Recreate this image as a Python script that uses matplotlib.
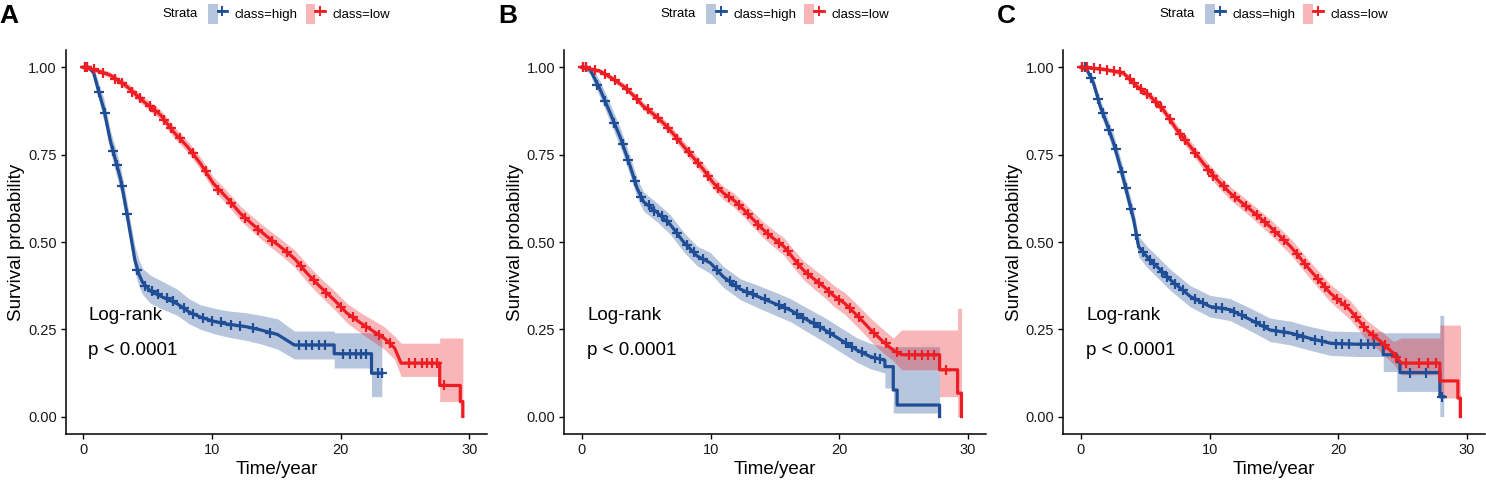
import numpy as np
import matplotlib
matplotlib.use("Agg")
import matplotlib.pyplot as plt
from matplotlib.patches import Patch
from matplotlib.lines import Line2D
from matplotlib.legend_handler import HandlerTuple

plt.rcParams["font.family"] = ["Liberation Sans", "DejaVu Sans"]

BLUE = "#1F4E96"
RED = "#EE1D23"

# ---------------- panel A ----------------
A_HIGH_T = [0, 0.4, 0.8, 1.2, 1.6, 2.1, 2.5, 2.9, 3.3, 3.7, 4.0, 4.3, 4.6, 5.2, 6.0, 7.3, 8.2, 9.1, 10.2,
            11.2, 12.7, 13.8, 15.1, 16.4, 19.5, 19.5, 22.4, 22.4, 23.2]
A_HIGH_S = [1.0, 1.0, 0.985, 0.93, 0.88, 0.79, 0.735, 0.68, 0.60, 0.515, 0.45, 0.41, 0.385, 0.36, 0.345,
            0.323, 0.30, 0.285, 0.272, 0.265, 0.257, 0.248, 0.235, 0.205, 0.205, 0.18, 0.18, 0.124, 0.124]
A_HIGH_LO = [1.0, 1.0, 0.97, 0.905, 0.85, 0.76, 0.70, 0.645, 0.565, 0.48, 0.415, 0.375, 0.35, 0.325, 0.31,
             0.29, 0.266, 0.25, 0.237, 0.228, 0.218, 0.208, 0.193, 0.165, 0.165, 0.139, 0.139, 0.057, 0.057]
A_HIGH_UP = [1.0, 1.0, 1.0, 0.955, 0.91, 0.82, 0.77, 0.715, 0.635, 0.55, 0.49, 0.45, 0.425, 0.405, 0.39,
             0.365, 0.338, 0.32, 0.31, 0.303, 0.297, 0.29, 0.28, 0.245, 0.245, 0.24, 0.24, 0.24, 0.24]
A_HIGH_CT = [0.1, 0.25, 1.2, 1.7, 2.3, 2.6, 3.0, 3.4, 4.2, 4.8, 5.3, 5.8, 6.5, 7.0, 7.8, 8.5, 9.3, 10.0,
             10.7, 11.5, 12.2, 13.2, 14.5, 16.8, 17.3, 17.8, 18.3, 18.8, 20.2, 20.7, 21.2, 21.6, 22.0, 22.9,
             23.2]
A_HIGH_CS = [1.0, 1.0, 0.93, 0.87, 0.76, 0.72, 0.66, 0.58, 0.42, 0.375, 0.36, 0.35, 0.34, 0.33, 0.31, 0.295,
             0.283, 0.275, 0.27, 0.263, 0.26, 0.253, 0.24, 0.205, 0.205, 0.205, 0.205, 0.205, 0.18, 0.18,
             0.18, 0.18, 0.18, 0.124, 0.124]

A_LOW_T = [0, 1.0, 2.1, 3.4, 4.7, 6.0, 7.0, 8.1, 9.1, 10.1, 11.2, 12.2, 13.2, 14.3, 15.3, 16.4, 17.4, 18.4,
           19.5, 20.5, 21.6, 22.6, 23.4, 24.2, 24.7, 27.7, 27.7, 29.3, 29.3, 29.5, 29.5]
A_LOW_S = [1.0, 0.992, 0.978, 0.945, 0.902, 0.864, 0.816, 0.773, 0.725, 0.668, 0.625, 0.582, 0.549, 0.515,
           0.487, 0.453, 0.41, 0.372, 0.334, 0.296, 0.267, 0.243, 0.224, 0.196, 0.153, 0.153, 0.089, 0.089,
           0.043, 0.043, 0.0]
A_LOW_LO = [1.0, 0.985, 0.97, 0.935, 0.89, 0.85, 0.80, 0.757, 0.708, 0.65, 0.606, 0.562, 0.528, 0.493,
            0.464, 0.429, 0.385, 0.346, 0.307, 0.268, 0.238, 0.213, 0.193, 0.163, 0.115, 0.115, 0.043, 0.043,
            0.0, 0.0, 0.0]
A_LOW_UP = [1.0, 0.999, 0.987, 0.957, 0.915, 0.879, 0.832, 0.79, 0.743, 0.687, 0.645, 0.603, 0.571, 0.538,
            0.51, 0.478, 0.436, 0.398, 0.361, 0.324, 0.296, 0.275, 0.257, 0.23, 0.21, 0.21, 0.225, 0.225,
            0.225, 0.225, 0.225]
A_LOW_CT = [0.1, 0.3, 0.8, 1.5, 2.5, 3.0, 3.8, 4.4, 5.2, 5.6, 6.3, 6.8, 7.5, 8.5, 9.5, 10.5, 11.5, 12.6,
            13.6, 14.7, 15.8, 16.9, 17.9, 18.9, 20.0, 21.0, 22.0, 23.0, 23.8, 25.3, 25.8, 26.3, 26.7, 27.1,
            27.5, 28.0]
A_LOW_CS = [1.0, 1.0, 0.995, 0.985, 0.968, 0.955, 0.93, 0.912, 0.89, 0.875, 0.85, 0.826, 0.797, 0.754,
            0.702, 0.65, 0.612, 0.569, 0.535, 0.504, 0.47, 0.43, 0.39, 0.353, 0.315, 0.284, 0.257, 0.234,
            0.21, 0.153, 0.153, 0.153, 0.153, 0.153, 0.153, 0.089]

# ---------------- panel B ----------------
B_HIGH_T = [0, 0.65, 0.91, 1.43, 2.2, 2.98, 3.76, 4.28, 4.8, 5.83, 6.87, 7.9, 8.95, 9.98, 11.0, 12.3, 13.6,
            14.9, 16.2, 17.5, 18.8, 20.1, 21.4, 22.4, 23.55, 23.55, 24.2, 24.2, 24.5, 24.5, 27.8, 27.8]
B_HIGH_S = [1.0, 0.993, 0.974, 0.936, 0.869, 0.80, 0.716, 0.655, 0.615, 0.585, 0.55, 0.50, 0.46, 0.44, 0.40,
            0.365, 0.345, 0.325, 0.305, 0.277, 0.25, 0.22, 0.19, 0.172, 0.161, 0.143, 0.143, 0.076, 0.076,
            0.033, 0.033, 0.0]
B_HIGH_LO = [1.0, 0.98, 0.955, 0.913, 0.843, 0.773, 0.688, 0.627, 0.588, 0.558, 0.522, 0.472, 0.432, 0.41,
             0.37, 0.335, 0.313, 0.292, 0.272, 0.243, 0.215, 0.185, 0.155, 0.137, 0.125, 0.082, 0.082, 0.01,
             0.01, 0.01, 0.01, 0.01]
B_HIGH_UP = [1.0, 1.0, 0.993, 0.96, 0.895, 0.827, 0.744, 0.683, 0.643, 0.612, 0.578, 0.528, 0.488, 0.47,
             0.43, 0.395, 0.377, 0.358, 0.338, 0.311, 0.285, 0.255, 0.225, 0.21, 0.2, 0.2, 0.2, 0.2, 0.2, 0.2,
             0.2, 0.2]
B_HIGH_CT = [0.1, 0.3, 1.2, 1.8, 2.5, 3.2, 3.6, 4.1, 4.6, 5.2, 5.6, 6.2, 6.6, 7.4, 8.2, 8.7, 9.4, 10.5, 11.5,
             12.0, 12.8, 13.3, 14.2, 15.3, 15.8, 16.7, 17.2, 18.0, 18.5, 19.3, 20.5, 21.0, 21.8, 22.8, 23.2]
B_HIGH_CS = [1.0, 1.0, 0.95, 0.905, 0.84, 0.78, 0.735, 0.675, 0.63, 0.605, 0.59, 0.575, 0.56, 0.525, 0.49,
             0.47, 0.452, 0.42, 0.387, 0.373, 0.358, 0.35, 0.336, 0.319, 0.311, 0.294, 0.283, 0.267, 0.256,
             0.238, 0.211, 0.2, 0.184, 0.169, 0.165]

B_LOW_T = [0, 0.8, 1.43, 2.3, 3.24, 4.0, 4.8, 5.6, 6.35, 7.1, 7.9, 8.7, 9.46, 10.2, 11.0, 11.8, 12.6, 13.3,
           14.1, 14.9, 15.7, 16.4, 17.2, 18.0, 18.8, 19.6, 20.4, 21.1, 21.9, 22.4, 23.4, 24.2, 24.85, 27.8,
           27.8, 29.2, 29.2, 29.5, 29.5]
B_LOW_S = [1.0, 0.995, 0.989, 0.97, 0.946, 0.92, 0.888, 0.865, 0.84, 0.81, 0.774, 0.74, 0.707, 0.67, 0.64,
           0.62, 0.592, 0.565, 0.535, 0.51, 0.487, 0.455, 0.42, 0.395, 0.372, 0.345, 0.325, 0.30, 0.27, 0.25,
           0.215, 0.19, 0.177, 0.177, 0.134, 0.134, 0.067, 0.067, 0.0]
B_LOW_LO = [1.0, 0.99, 0.982, 0.962, 0.937, 0.91, 0.877, 0.853, 0.827, 0.796, 0.759, 0.724, 0.69, 0.652,
            0.621, 0.6, 0.571, 0.543, 0.512, 0.486, 0.462, 0.429, 0.393, 0.367, 0.343, 0.315, 0.294, 0.268,
            0.238, 0.218, 0.183, 0.16, 0.134, 0.134, 0.057, 0.057, 0.0, 0.0, 0.0]
B_LOW_UP = [1.0, 1.0, 0.996, 0.978, 0.955, 0.93, 0.899, 0.877, 0.853, 0.824, 0.789, 0.756, 0.724, 0.688,
            0.659, 0.64, 0.613, 0.587, 0.558, 0.534, 0.512, 0.481, 0.447, 0.423, 0.401, 0.375, 0.356, 0.332,
            0.302, 0.283, 0.25, 0.225, 0.248, 0.248, 0.248, 0.248, 0.31, 0.31, 0.31]
B_LOW_CT = [0.1, 0.3, 1.0, 1.8, 2.6, 3.5, 4.3, 5.1, 5.9, 6.7, 7.4, 8.3, 9.0, 9.8, 10.6, 11.4, 12.2, 12.9,
            13.7, 14.5, 15.3, 16.0, 16.8, 17.6, 18.4, 19.2, 20.0, 20.8, 21.5, 22.7, 23.6, 24.5, 25.4, 25.9,
            26.4, 26.9, 27.4, 28.3]
B_LOW_CS = [1.0, 1.0, 0.993, 0.982, 0.963, 0.938, 0.91, 0.88, 0.855, 0.826, 0.796, 0.757, 0.727, 0.69, 0.655,
            0.63, 0.606, 0.58, 0.55, 0.522, 0.498, 0.473, 0.437, 0.407, 0.383, 0.358, 0.335, 0.311, 0.286,
            0.24, 0.21, 0.185, 0.177, 0.177, 0.177, 0.177, 0.177, 0.134]

# ---------------- panel C ----------------
C_HIGH_T = [0, 0.47, 0.98, 1.5, 2.0, 2.54, 3.06, 3.58, 4.1, 4.48, 5.13, 5.9, 6.94, 8.5, 10.05, 11.6, 13.2,
            14.7, 16.3, 17.8, 19.4, 21.5, 23.5, 23.5, 24.55, 24.55, 24.8, 24.8, 27.9, 27.9, 28.2]
C_HIGH_S = [1.0, 0.993, 0.955, 0.888, 0.84, 0.783, 0.716, 0.64, 0.564, 0.487, 0.458, 0.43, 0.392, 0.344,
            0.315, 0.306, 0.277, 0.248, 0.239, 0.224, 0.21, 0.207, 0.207, 0.177, 0.177, 0.157, 0.157, 0.126,
            0.126, 0.057, 0.057]
C_HIGH_LO = [1.0, 0.985, 0.94, 0.868, 0.818, 0.758, 0.69, 0.612, 0.535, 0.458, 0.428, 0.4, 0.362, 0.314,
             0.285, 0.275, 0.245, 0.215, 0.205, 0.19, 0.175, 0.172, 0.172, 0.129, 0.129, 0.072, 0.072, 0.072,
             0.072, 0.0, 0.0]
C_HIGH_UP = [1.0, 1.0, 0.97, 0.908, 0.862, 0.808, 0.742, 0.668, 0.593, 0.517, 0.488, 0.46, 0.422, 0.375,
             0.347, 0.338, 0.31, 0.282, 0.273, 0.258, 0.245, 0.243, 0.243, 0.24, 0.24, 0.24, 0.24, 0.24, 0.24,
             0.29, 0.29]
C_HIGH_CT = [0.1, 0.3, 0.8, 1.3, 1.7, 2.2, 2.7, 3.2, 3.5, 3.9, 4.3, 4.8, 5.4, 5.7, 6.3, 6.7, 7.3, 7.9, 8.9,
             9.5, 10.5, 11.0, 11.9, 12.5, 13.6, 14.2, 15.2, 15.8, 16.8, 17.3, 18.2, 18.7, 19.8, 20.3, 20.8,
             21.8, 22.3, 22.8, 25.6, 26.8, 28.1]
C_HIGH_CS = [1.0, 1.0, 0.97, 0.91, 0.87, 0.82, 0.765, 0.70, 0.655, 0.595, 0.52, 0.47, 0.448, 0.437, 0.415,
             0.40, 0.38, 0.362, 0.337, 0.325, 0.312, 0.31, 0.30, 0.29, 0.27, 0.258, 0.245, 0.242, 0.234,
             0.229, 0.22, 0.216, 0.209, 0.208, 0.207, 0.207, 0.207, 0.207, 0.126, 0.126, 0.057]

C_LOW_T = [0, 1.76, 3.3, 4.35, 5.4, 6.4, 7.46, 8.5, 9.5, 10.6, 11.6, 13.2, 14.7, 16.3, 17.8, 19.4, 20.9,
           22.2, 23.3, 24.3, 24.9, 27.9, 27.9, 29.3, 29.3, 29.5, 29.5]
C_LOW_S = [1.0, 0.995, 0.984, 0.946, 0.917, 0.879, 0.821, 0.774, 0.726, 0.678, 0.64, 0.592, 0.544, 0.487,
           0.42, 0.353, 0.306, 0.248, 0.215, 0.181, 0.153, 0.153, 0.102, 0.102, 0.053, 0.053, 0.0]
C_LOW_LO = [1.0, 0.99, 0.976, 0.936, 0.905, 0.866, 0.806, 0.758, 0.709, 0.66, 0.621, 0.572, 0.522, 0.464,
            0.396, 0.328, 0.279, 0.22, 0.185, 0.15, 0.12, 0.12, 0.053, 0.053, 0.0, 0.0, 0.0]
C_LOW_UP = [1.0, 1.0, 0.992, 0.956, 0.929, 0.892, 0.836, 0.79, 0.743, 0.696, 0.659, 0.612, 0.566, 0.51,
            0.444, 0.378, 0.333, 0.276, 0.245, 0.215, 0.225, 0.225, 0.262, 0.262, 0.262, 0.262, 0.262]
C_LOW_CT = [0.1, 0.5, 1.0, 1.5, 2.0, 2.6, 3.0, 3.8, 4.1, 4.7, 5.1, 5.8, 6.2, 6.9, 7.7, 8.1, 8.9, 9.9, 10.3,
            11.1, 12.0, 12.8, 13.7, 14.3, 15.1, 15.8, 16.8, 17.4, 18.4, 19.0, 19.9, 20.5, 21.4, 22.0, 22.7,
            23.6, 24.5, 25.3, 26.3, 27.0, 27.6]
C_LOW_CS = [1.0, 1.0, 0.998, 0.996, 0.993, 0.989, 0.987, 0.968, 0.955, 0.937, 0.925, 0.90, 0.887, 0.852,
            0.81, 0.792, 0.755, 0.707, 0.69, 0.659, 0.628, 0.604, 0.576, 0.557, 0.53, 0.505, 0.466, 0.438,
            0.395, 0.37, 0.338, 0.319, 0.286, 0.257, 0.233, 0.205, 0.17, 0.153, 0.153, 0.153, 0.153]

PANELS = [
    ("A", (A_HIGH_T, A_HIGH_S, A_HIGH_LO, A_HIGH_UP, A_HIGH_CT, A_HIGH_CS),
          (A_LOW_T, A_LOW_S, A_LOW_LO, A_LOW_UP, A_LOW_CT, A_LOW_CS)),
    ("B", (B_HIGH_T, B_HIGH_S, B_HIGH_LO, B_HIGH_UP, B_HIGH_CT, B_HIGH_CS),
          (B_LOW_T, B_LOW_S, B_LOW_LO, B_LOW_UP, B_LOW_CT, B_LOW_CS)),
    ("C", (C_HIGH_T, C_HIGH_S, C_HIGH_LO, C_HIGH_UP, C_HIGH_CT, C_HIGH_CS),
          (C_LOW_T, C_LOW_S, C_LOW_LO, C_LOW_UP, C_LOW_CT, C_LOW_CS)),
]

W, H = 1486, 482
fig = plt.figure(figsize=(W / 100, H / 100), dpi=100)

ax_lefts = [65.7, 564.3, 1063.3]
ax_w, ax_top, ax_bottom = 421.6, 50, 434

for (letter, high, low), left in zip(PANELS, ax_lefts):
    ax = fig.add_axes([left / W, (H - ax_bottom) / H, ax_w / W, (ax_bottom - ax_top) / H])

    for data, color in [(high, BLUE), (low, RED)]:
        t, s, lo, up, ct, cs = data
        ax.fill_between(t, lo, up, color=color, alpha=0.32, linewidth=0)
    for data, color in [(high, BLUE), (low, RED)]:
        t, s, lo, up, ct, cs = data
        ax.plot(t, s, color=color, lw=2.3)
        ax.plot(ct, cs, linestyle="none", marker="+", color=color, ms=7.5, mew=1.6)

    ax.set_xlim(-1.37, 31.4)
    ax.set_ylim(-0.05, 1.05)
    ax.set_xticks([0, 10, 20, 30])
    ax.set_yticks([0, 0.25, 0.5, 0.75, 1.0])
    ax.set_yticklabels(["0.00", "0.25", "0.50", "0.75", "1.00"])
    for side in ["top", "right"]:
        ax.spines[side].set_visible(False)
    for side in ["left", "bottom"]:
        ax.spines[side].set_linewidth(1.1)
    ax.tick_params(length=3.5, width=1.0, labelsize=10.5, labelcolor="#1a1a1a", pad=3)
    ax.set_xlabel("Time/year", fontsize=13.5, labelpad=3)
    ax.set_ylabel("Survival probability", fontsize=13.5, labelpad=2)

    ax.text(0.4, 0.29, "Log-rank", fontsize=13.5, va="center", ha="left")
    ax.text(0.4, 0.19, "p < 0.0001", fontsize=13.5, va="center", ha="left")

    # legend above the panel
    handles = [
        (Patch(facecolor=BLUE, alpha=0.32, linewidth=0),
         Line2D([0], [0], color=BLUE, lw=2, marker="+", ms=7, mew=1.4)),
        (Patch(facecolor=RED, alpha=0.32, linewidth=0),
         Line2D([0], [0], color=RED, lw=2, marker="+", ms=7, mew=1.4)),
    ]
    leg_y = 1 + (ax_top - 14) / (ax_bottom - ax_top)
    ax.legend(handles, ["class=high", "class=low"], ncol=2, frameon=False,
              loc="center", bbox_to_anchor=((299 - 65.7) / ax_w, leg_y),
              fontsize=9.5, handlelength=1.5, handleheight=1.9, handletextpad=0.55,
              columnspacing=0.6, borderpad=0,
              handler_map={tuple: HandlerTuple(ndivide=None)})
    ax.text((162 - 65.7) / ax_w, leg_y, "Strata",
            transform=ax.transAxes, fontsize=9.5, va="center", ha="left")

    fig.text((left - 66) / W, 1 - 16 / H, letter, fontsize=19, fontweight="bold",
             va="center", ha="left")

fig.savefig("out.png", dpi=100)
